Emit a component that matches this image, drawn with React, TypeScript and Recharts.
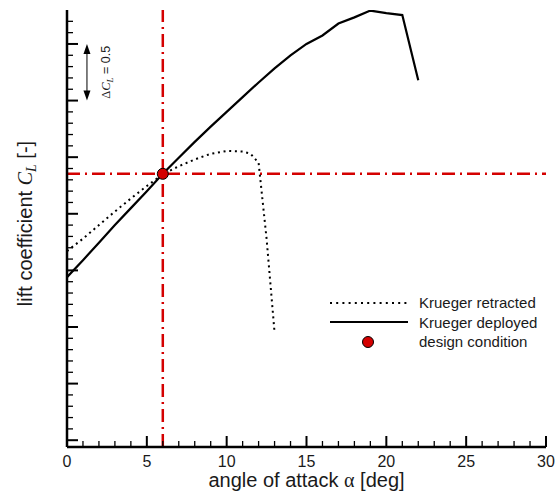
import { ComposedChart, Legend, Line, ReferenceDot, ReferenceLine, XAxis, YAxis } from "recharts";

// angle of attack [deg] and lift coefficient
const alphaRetracted = [0, 1, 2, 3, 4, 5, 6, 7, 8, 9, 10, 11, 11.5, 12, 12.5, 13];
const clRetracted = [1.67, 1.78, 1.9, 2.02, 2.135, 2.245, 2.35, 2.42, 2.48, 2.53, 2.555, 2.55, 2.53, 2.45, 1.78, 0.95];

const alphaDeployed = [0, 1, 2, 3, 4, 5, 6, 7, 8, 9, 10, 11, 12, 13, 14, 15, 16, 17, 18, 19, 20, 21, 22];
const clDeployed = [
  1.44, 1.59, 1.745, 1.9, 2.05, 2.2, 2.353, 2.495, 2.635, 2.77, 2.9, 3.03, 3.16, 3.285, 3.4, 3.5, 3.575, 3.68,
  3.735, 3.795, 3.772, 3.755, 3.18,
];

const designAlpha = 6;
const designCl = 2.353;

// scale bar: delta C_L = 0.5
const barAlpha = 1.25;
const barFrom = 3.0;
const barTo = 3.5;

const xTicks = [0, 1, 2, 3, 4, 5, 6, 7, 8, 9, 10, 11, 12, 13, 14, 15, 16, 17, 18, 19, 20, 21, 22, 23, 24, 25, 26, 27, 28, 29, 30];
const yTicks = [
  0, 0.1, 0.2, 0.3, 0.4, 0.5, 0.6, 0.7, 0.8, 0.9, 1, 1.1, 1.2, 1.3, 1.4, 1.5, 1.6, 1.7, 1.8, 1.9, 2, 2.1, 2.2, 2.3,
  2.4, 2.5, 2.6, 2.7, 2.8, 2.9, 3, 3.1, 3.2, 3.3, 3.4, 3.5, 3.6, 3.7,
];

const legendNames = ["Krueger retracted", "Krueger deployed", "design condition"];

const retracted = alphaRetracted.map((alpha, i) => ({ alpha, cl: clRetracted[i] }));
const deployed = alphaDeployed.map((alpha, i) => ({ alpha, cl: clDeployed[i] }));

const SANS = "'Liberation Sans', Arial, sans-serif";
const SERIF = "'Liberation Serif', 'Times New Roman', serif";
const RED = "#d40000";
const INK = "#1a1a1a";

const XTick = (props: any) => {
  const { x, y, payload } = props;
  const major = payload.value % 5 === 0;
  return (
    <g>
      <line x1={x} x2={x} y1={y} y2={y - (major ? 11 : 6)} stroke="#000" strokeWidth={major ? 2 : 1.3} />
      {major && (
        <text x={x} y={y + 19.5} textAnchor="middle" fontFamily={SANS} fontSize={16} fill={INK}>
          {payload.value}
        </text>
      )}
    </g>
  );
};

const YTick = (props: any) => {
  const { x, y, payload } = props;
  const major = Math.round(payload.value * 10) % 5 === 0;
  return <line x1={x} x2={x + (major ? 11 : 6)} y1={y} y2={y} stroke="#000" strokeWidth={major ? 2 : 1.3} />;
};

const XLabel = (props: any) => {
  const { x, y, width } = props.viewBox;
  return (
    <text x={x + width / 2} y={y + 40} textAnchor="middle" fontFamily={SANS} fontSize={20} fill={INK}>
      angle of attack <tspan fontFamily={SERIF}>α</tspan> [deg]
    </text>
  );
};

const YLabel = (props: any) => {
  const { y, height } = props.viewBox;
  const cx = 32;
  const cy = y + height / 2 - 5;
  return (
    <text x={cx} y={cy} transform={`rotate(-90, ${cx}, ${cy})`} textAnchor="middle" fontFamily={SANS} fontSize={20} fill={INK}>
      lift coefficient{" "}
      <tspan fontFamily={SERIF} fontStyle="italic">
        C
      </tspan>
      <tspan fontFamily={SERIF} fontStyle="italic" fontSize={14} dy={4}>
        L
      </tspan>
      <tspan dy={-4}> [-]</tspan>
    </text>
  );
};

const ScaleBar = (props: any) => {
  const { x1, y1, y2 } = props;
  const top = Math.min(y1, y2);
  const bottom = Math.max(y1, y2);
  const tx = x1 + 23;
  const ty = (top + bottom) / 2;
  return (
    <g>
      <line x1={x1} x2={x1} y1={top + 6} y2={bottom - 6} stroke="#000" strokeWidth={1} />
      <path d={`M${x1},${top} L${x1 - 3.5},${top + 10} L${x1 + 3.5},${top + 10} Z`} fill="#000" />
      <path d={`M${x1},${bottom} L${x1 - 3.5},${bottom - 10} L${x1 + 3.5},${bottom - 10} Z`} fill="#000" />
      <text x={tx} y={ty} transform={`rotate(-90, ${tx}, ${ty})`} textAnchor="middle" fontFamily={SANS} fontSize={12.5} fill={INK}>
        <tspan fontFamily={SERIF}>Δ</tspan>
        <tspan fontFamily={SERIF} fontStyle="italic">
          C
        </tspan>
        <tspan fontFamily={SERIF} fontStyle="italic" fontSize={9} dy={3}>
          L
        </tspan>
        <tspan dy={-3}> = 0.5</tspan>
      </text>
    </g>
  );
};

const LegendBox = () => (
  <div style={{ fontFamily: SANS, fontSize: 15, color: INK }}>
    {legendNames.map((name, i) => (
      <div key={name} style={{ display: "flex", alignItems: "center", height: 19.5 }}>
        <svg width={82} height={14} style={{ marginRight: 9 }}>
          {i === 0 && <line x1={2} x2={80} y1={7} y2={7} stroke="#000" strokeWidth={2} strokeDasharray="2 4.2" />}
          {i === 1 && <line x1={2} x2={80} y1={7} y2={7} stroke="#000" strokeWidth={2.2} />}
          {i === 2 && <circle cx={40} cy={7} r={5.5} fill={RED} stroke="#000" strokeWidth={1} />}
        </svg>
        <span>{name}</span>
      </div>
    ))}
  </div>
);

export default function App() {
  return (
    <div style={{ position: "absolute", left: 0, top: 0, width: 555, height: 491, background: "#fff" }}>
      <ComposedChart width={555} height={491} margin={{ top: 10, right: 9, left: 0, bottom: 0 }}>
        <XAxis
          type="number"
          dataKey="alpha"
          domain={[0, 30]}
          ticks={xTicks}
          interval={0}
          height={44}
          tickSize={0}
          tickMargin={0}
          tickLine={false}
          tick={<XTick />}
          axisLine={{ stroke: "#000", strokeWidth: 2.5 }}
          allowDataOverflow
          label={{ content: <XLabel /> }}
        />
        <YAxis
          type="number"
          dataKey="cl"
          domain={[-0.06, 3.8]}
          ticks={yTicks}
          interval={0}
          width={67}
          tickSize={0}
          tickMargin={0}
          tickLine={false}
          tick={<YTick />}
          axisLine={{ stroke: "#000", strokeWidth: 2.5 }}
          allowDataOverflow
          label={{ content: <YLabel /> }}
        />
        <ReferenceLine x={designAlpha} stroke={RED} strokeWidth={2.5} strokeDasharray="13 5 2 5" />
        <ReferenceLine y={designCl} stroke={RED} strokeWidth={2.5} strokeDasharray="13 5 2 5" />
        <ReferenceLine
          segment={[
            { x: barAlpha, y: barFrom },
            { x: barAlpha, y: barTo },
          ]}
          shape={<ScaleBar />}
        />
        <Line
          data={retracted}
          dataKey="cl"
          name={legendNames[0]}
          type="linear"
          stroke="#000"
          strokeWidth={2}
          strokeDasharray="2 3.7"
          dot={false}
          isAnimationActive={false}
        />
        <Line
          data={deployed}
          dataKey="cl"
          name={legendNames[1]}
          type="linear"
          stroke="#000"
          strokeWidth={2.2}
          dot={false}
          isAnimationActive={false}
        />
        <ReferenceDot x={designAlpha} y={designCl} r={5.5} fill={RED} stroke="#000" strokeWidth={1} />
        <Legend
          layout="vertical"
          align="center"
          verticalAlign="middle"
          content={<LegendBox />}
          wrapperStyle={{ left: 328, top: 293, width: 230 }}
        />
      </ComposedChart>
    </div>
  );
}
